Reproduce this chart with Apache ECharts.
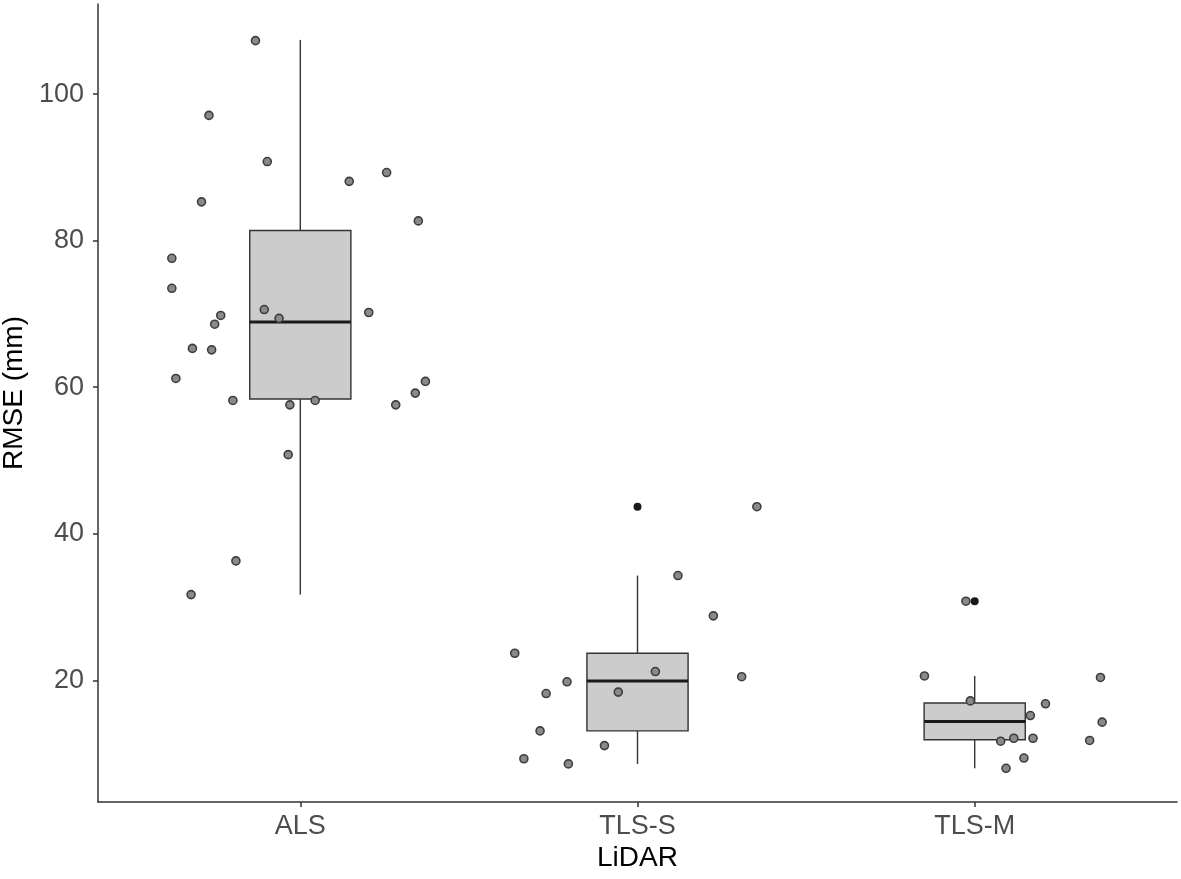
<!DOCTYPE html>
<html>
<head>
<meta charset="utf-8">
<script src="https://cdn.jsdelivr.net/npm/echarts@6/dist/echarts.min.js"></script>
<style>
  html, body { margin: 0; padding: 0; background: #ffffff; }
  #chart { width: 1181px; height: 879px; }
</style>
</head>
<body>
<div id="chart"></div>
<script>
// ---- Data ----
const categories = ['ALS', 'TLS-S', 'TLS-M'];
const yTicks = [20, 40, 60, 80, 100];

// Box statistics: [low whisker, Q1, median, Q3, high whisker]
const alsBox  = [31.7, 58.4, 68.9, 81.4, 107.4];
const tlssBox = [8.6, 13.1, 19.9, 23.7, 34.3];
const tlsmBox = [8.0, 11.9, 14.4, 16.9, 20.6];

// Outliers (boxplot)
const tlssOutliers = [43.7];
const tlsmOutliers = [30.8];

// Jittered observations: values and horizontal jitter (category units)
const alsValues = [107.3, 97.1, 90.8, 88.1, 89.3, 85.3, 82.7, 77.6, 73.5, 70.6, 70.2, 69.8, 69.4, 68.6, 65.3, 65.1, 61.2, 60.8, 59.2, 58.2, 58.2, 57.6, 57.6, 50.8, 36.3, 31.7];
const alsJitter = [-0.133, -0.271, -0.098, 0.145, 0.256, -0.293, 0.350, -0.381, -0.381, -0.107, 0.203, -0.236, -0.063, -0.254, -0.320, -0.263, -0.369, 0.371, 0.341, -0.200, 0.044, -0.031, 0.283, -0.036, -0.191, -0.324];

const tlssValues = [43.7, 34.3, 28.8, 23.7, 21.2, 20.5, 19.8, 18.2, 18.4, 13.1, 11.1, 9.3, 8.6];
const tlssJitter = [0.354, 0.120, 0.225, -0.364, 0.053, 0.309, -0.209, -0.271, -0.057, -0.289, -0.098, -0.337, -0.205];

const tlsmValues = [30.8, 20.6, 20.4, 17.2, 16.8, 15.2, 14.3, 12.1, 12.1, 11.7, 11.8, 9.4, 8.0];
const tlsmJitter = [-0.026, -0.149, 0.373, -0.013, 0.210, 0.165, 0.378, 0.116, 0.173, 0.077, 0.341, 0.146, 0.093];

// ---- Build series data ----
const boxes = [alsBox, tlssBox, tlsmBox];
const boxData = boxes.map((b, i) => [i + 1].concat(b));

const outlierData = [];
tlssOutliers.forEach(v => outlierData.push([2, v]));
tlsmOutliers.forEach(v => outlierData.push([3, v]));

const pointData = [];
[[alsValues, alsJitter], [tlssValues, tlssJitter], [tlsmValues, tlsmJitter]].forEach((pair, i) => {
  pair[0].forEach((v, k) => pointData.push([i + 1 + pair[1][k], v]));
});

const BOX_WIDTH = 0.3;
const STROKE = '#333333';

function renderBox(params, api) {
  const x = api.value(0);
  const low = api.coord([x, api.value(1)]);
  const q1 = api.coord([x, api.value(2)]);
  const med = api.coord([x, api.value(3)]);
  const q3 = api.coord([x, api.value(4)]);
  const high = api.coord([x, api.value(5)]);
  const half = api.size([BOX_WIDTH, 0])[0] / 2;
  const cx = low[0];
  return {
    type: 'group',
    children: [
      { type: 'line', shape: { x1: cx, y1: high[1], x2: cx, y2: q3[1] },
        style: { stroke: STROKE, lineWidth: 1.4 } },
      { type: 'line', shape: { x1: cx, y1: q1[1], x2: cx, y2: low[1] },
        style: { stroke: STROKE, lineWidth: 1.4 } },
      { type: 'rect', shape: { x: cx - half, y: q3[1], width: half * 2, height: q1[1] - q3[1] },
        style: { fill: '#cccccc', stroke: STROKE, lineWidth: 1.4 } },
      { type: 'line', shape: { x1: cx - half, y1: med[1], x2: cx + half, y2: med[1] },
        style: { stroke: '#1a1a1a', lineWidth: 3 } }
    ]
  };
}

const chart = echarts.init(document.getElementById('chart'), null, { renderer: 'canvas' });
const textFont = '"Liberation Sans", Arial, sans-serif';

chart.setOption({
  backgroundColor: '#ffffff',
  animation: false,
  grid: { left: 98, right: 4, top: 4, bottom: 77, containLabel: false, outerBoundsMode: 'none' },
  xAxis: {
    type: 'value',
    min: 0.4,
    max: 3.6,
    name: 'LiDAR',
    nameLocation: 'middle',
    nameGap: 42,
    nameMoveOverlap: false,
    nameTextStyle: { color: '#000000', fontSize: 28, fontFamily: textFont },
    axisLine: { show: true, lineStyle: { color: STROKE, width: 1.5 } },
    axisTick: { show: true, customValues: [1, 2, 3], length: 5, lineStyle: { color: STROKE, width: 1.5 } },
    axisLabel: {
      customValues: [1, 2, 3],
      formatter: v => categories[Math.round(v) - 1] || '',
      color: '#4d4d4d', fontSize: 27, fontFamily: textFont, margin: 11
    },
    splitLine: { show: false }
  },
  yAxis: {
    type: 'value',
    min: 3.4,
    max: 112.3,
    name: 'RMSE (mm)',
    nameLocation: 'middle',
    nameGap: 70,
    nameMoveOverlap: false,
    nameTextStyle: { color: '#000000', fontSize: 28, fontFamily: textFont, padding: [0, 0, 0, 20] },
    axisLine: { show: true, lineStyle: { color: STROKE, width: 1.5 } },
    axisTick: { show: true, customValues: yTicks, length: 5, lineStyle: { color: STROKE, width: 1.5 } },
    axisLabel: {
      customValues: yTicks,
      color: '#4d4d4d', fontSize: 27, fontFamily: textFont, margin: 14
    },
    splitLine: { show: false }
  },
  series: [
    {
      type: 'custom',
      renderItem: renderBox,
      data: boxData,
      encode: { x: 0, y: [1, 2, 3, 4, 5] },
      z: 1
    },
    {
      type: 'scatter',
      data: outlierData,
      symbol: 'circle',
      symbolSize: 8,
      itemStyle: { color: '#1a1a1a', opacity: 1 },
      z: 2
    },
    {
      type: 'scatter',
      data: pointData,
      symbol: 'circle',
      symbolSize: 8,
      itemStyle: { color: '#8a8a8a', borderColor: '#3d3d3d', borderWidth: 1.6, opacity: 1 },
      z: 3
    }
  ]
});
</script>
</body>
</html>
